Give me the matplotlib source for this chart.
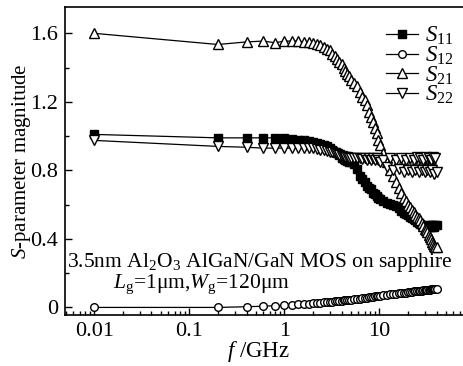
import matplotlib
matplotlib.use('Agg')
import matplotlib.pyplot as plt
from matplotlib.ticker import FixedLocator, MultipleLocator, LogLocator, NullFormatter

plt.rcParams['font.family'] = ['Liberation Serif', 'DejaVu Serif']
plt.rcParams['mathtext.fontset'] = 'custom'
plt.rcParams['mathtext.rm'] = 'Liberation Serif'
plt.rcParams['mathtext.it'] = 'Liberation Serif:italic'

# frequency points (GHz)
freq = [0.01, 0.2, 0.4, 0.6, 0.8, 1.0, 1.2, 1.4, 1.6, 1.8,
        2.0, 2.2, 2.4, 2.6, 2.8, 3.0, 3.2, 3.4, 3.6, 3.8,
        4.0, 4.2, 4.4, 4.6, 4.8, 5.0,
        5.4, 5.8, 6.2, 6.6, 7.0, 7.4, 7.8, 8.2, 8.6, 9.0, 9.4, 9.8, 10.2,
        11, 12, 13, 14, 15, 16, 17, 18, 19, 20,
        21, 22, 23, 24, 25, 26, 27, 28, 29, 30,
        31, 32, 33, 34, 35, 36, 37, 38, 39, 40]

s11 = [1.01, 0.99, 0.99, 0.99, 0.99, 0.99, 0.985, 0.98, 0.975, 0.97,
       0.965, 0.96, 0.955, 0.95, 0.94, 0.93, 0.92, 0.91, 0.90, 0.89,
       0.87, 0.865, 0.86, 0.855, 0.85, 0.85,
       0.84, 0.81, 0.77, 0.75, 0.73, 0.71, 0.70, 0.69, 0.67, 0.66, 0.65, 0.64, 0.635,
       0.62, 0.61, 0.605, 0.60, 0.59, 0.58, 0.565, 0.55, 0.545, 0.54,
       0.53, 0.52, 0.515, 0.51, 0.50, 0.49, 0.485, 0.48, 0.475, 0.47,
       0.47, 0.475, 0.48, 0.47, 0.48, 0.47, 0.48, 0.47, 0.48, 0.48]

s12 = [0.0, 0.0, 0.004, 0.007, 0.010, 0.012, 0.015, 0.018, 0.020, 0.022,
       0.024, 0.026, 0.028, 0.030, 0.031, 0.033, 0.034, 0.036, 0.037, 0.038,
       0.040, 0.041, 0.042, 0.043, 0.044, 0.045,
       0.047, 0.049, 0.051, 0.053, 0.055, 0.057, 0.059, 0.061, 0.063, 0.064, 0.066, 0.067, 0.069,
       0.071, 0.074, 0.076, 0.078, 0.080, 0.082, 0.084, 0.086, 0.087, 0.089,
       0.090, 0.091, 0.093, 0.094, 0.095, 0.096, 0.097, 0.098, 0.099, 0.100,
       0.101, 0.102, 0.103, 0.104, 0.105, 0.106, 0.107, 0.108, 0.109, 0.110]

s21 = [1.60, 1.535, 1.55, 1.555, 1.545, 1.555, 1.555, 1.555, 1.55, 1.55,
       1.545, 1.54, 1.53, 1.52, 1.51, 1.50, 1.48, 1.47, 1.45, 1.43,
       1.42, 1.40, 1.38, 1.36, 1.35, 1.33,
       1.31, 1.29, 1.26, 1.23, 1.21, 1.18, 1.14, 1.11, 1.08, 1.05, 1.02, 0.98, 0.95,
       0.90, 0.85, 0.80, 0.77, 0.73, 0.70, 0.67, 0.64, 0.62, 0.60,
       0.585, 0.57, 0.555, 0.54, 0.53, 0.52, 0.51, 0.49, 0.475, 0.46,
       0.45, 0.44, 0.425, 0.41, 0.40, 0.38, 0.37, 0.36, 0.355, 0.35]

s22 = [0.975, 0.94, 0.935, 0.93, 0.93, 0.93, 0.93, 0.93, 0.93, 0.93,
       0.93, 0.925, 0.92, 0.92, 0.915, 0.91, 0.905, 0.90, 0.895, 0.89,
       0.885, 0.88, 0.88, 0.88, 0.875, 0.875,
       0.87, 0.87, 0.87, 0.865, 0.87, 0.86, 0.87, 0.86, 0.87, 0.86, 0.87, 0.86, 0.85,
       0.86, 0.82, 0.87, 0.80, 0.86, 0.81, 0.87, 0.79, 0.86, 0.80,
       0.87, 0.79, 0.86, 0.80, 0.88, 0.79, 0.87, 0.80, 0.86, 0.79,
       0.88, 0.80, 0.87, 0.79, 0.86, 0.80, 0.88, 0.78, 0.87, 0.79]

labels = ['$S_{11}$', '$S_{12}$', '$S_{21}$', '$S_{22}$']

fig = plt.figure(figsize=(4.63, 3.66), dpi=100)
ax = fig.add_axes([0.141, 0.139, 0.859, 0.841])

ms = 5.5
ax.plot(freq, s11, '-', color='k', lw=0.9, marker='s', ms=ms, mfc='k', mec='k', label=labels[0])
ax.plot(freq, s12, '-', color='k', lw=0.9, marker='o', ms=ms, mfc='white', mec='k', mew=1.0, label=labels[1])
ax.plot(freq, s21, '-', color='k', lw=0.9, marker='^', ms=ms + 1, mfc='white', mec='k', mew=1.0, label=labels[2])
ax.plot(freq, s22, '-', color='k', lw=0.9, marker='v', ms=ms + 1, mfc='white', mec='k', mew=1.0, label=labels[3])

ax.set_xscale('log')
ax.set_xlim(0.00495, 76)
ax.set_ylim(-0.045, 1.752)

ax.xaxis.set_major_locator(FixedLocator([0.01, 0.1, 1, 10]))
ax.set_xticklabels(['0.01', '0.1', '1', '10'])
ax.xaxis.set_minor_locator(LogLocator(base=10, subs=range(2, 10), numticks=20))
ax.xaxis.set_minor_formatter(NullFormatter())
ax.yaxis.set_major_locator(FixedLocator([0, 0.4, 0.8, 1.2, 1.6]))
ax.set_yticklabels(['0', '0.4', '0.8', '1.2', '1.6'])
ax.yaxis.set_minor_locator(MultipleLocator(0.2))

ax.tick_params(which='both', direction='in', top=False, right=False, labelsize=16, width=1.0)
ax.tick_params(which='major', length=5, pad=5)
ax.tick_params(which='minor', length=3)
for sp in ['left', 'bottom', 'top']:
    ax.spines[sp].set_linewidth(1.2)
ax.spines['right'].set_visible(False)

ax.set_xlabel('$f$ /GHz', fontsize=16.5)
ax.xaxis.set_label_coords(0.485, -0.078)
ax.set_ylabel('$S$-parameter magnitude', fontsize=15)
ax.yaxis.set_label_coords(-0.08, 0.5)

ax.text(0.0052, 0.262, '3.5nm Al$_2$O$_3$ AlGaN/GaN MOS on sapphire',
        fontsize=15.5, ha='left', va='center')
ax.text(0.0158, 0.136, '$L_{\\rm g}$=1\u03bcm,$W_{\\rm g}$=120\u03bcm',
        fontsize=15.5, ha='left', va='center')

ax.legend(loc='upper right', bbox_to_anchor=(1.0, 0.972), frameon=False, fontsize=16.5,
          handlelength=1.4, labelspacing=-0.12, handletextpad=0.3, borderaxespad=0.0)

fig.savefig('out.png', dpi=100)
